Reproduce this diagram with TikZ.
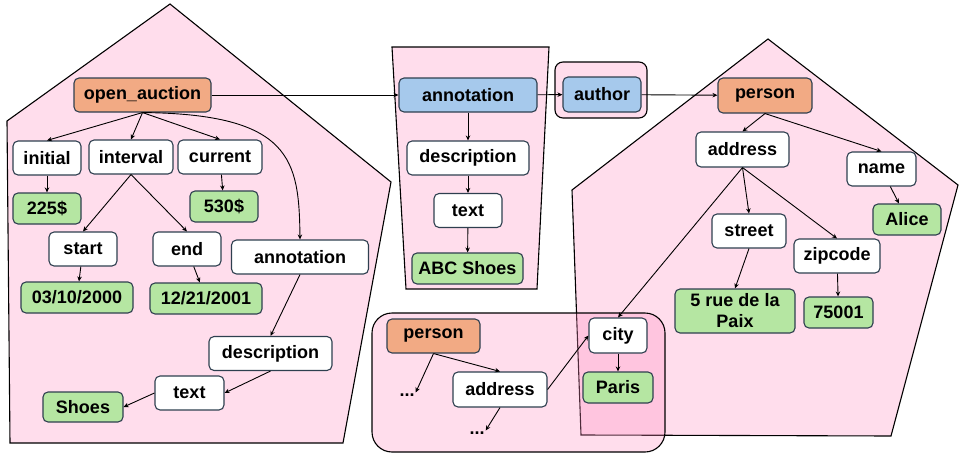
\documentclass[tikz,border=0pt]{standalone}
\usepackage{fontspec}
\setmainfont{Liberation Sans}
\usepackage{xcolor}
\usetikzlibrary{arrows.meta}

\definecolor{nodeline}{HTML}{2E3F4F}
\definecolor{rootfill}{HTML}{F2AA84}
\definecolor{reffill}{HTML}{A6C9EC}
\definecolor{valfill}{HTML}{B5E6A2}
\definecolor{regionfill}{RGB}{255,142,192}

\begin{document}
\begin{tikzpicture}[x=1pt,y=-1pt,
    box/.style={draw=nodeline,line width=1.1pt,rounded corners=5pt,minimum height=34pt,inner sep=2pt,
      font=\fontsize{18}{21}\selectfont\bfseries},
    elem/.style={box,fill=white},
    root/.style={box,fill=rootfill},
    ref/.style={box,fill=reffill},
    val/.style={box,fill=valfill,minimum height=31pt},
    dots/.style={inner sep=1pt,font=\fontsize{18}{19}\selectfont\bfseries},
    region/.style={draw=black,line width=1.1pt,fill=regionfill,fill opacity=0.3},
    arr/.style={-{Stealth[length=5pt,width=4.5pt]},line width=0.9pt}]
    \useasboundingbox (0,0) rectangle (959,455);

    % regions
    \draw[region] (170,4) -- (391,182) -- (343,443) -- (10,443) -- (7,121) -- cycle;
    \draw[region] (392,47) -- (549,47) -- (537,289) -- (406,289) -- cycle;
    \draw[region,rounded corners=8pt] (555,62) rectangle (647,118);
    \draw[region] (768,39) -- (958,185) -- (891,436) -- (581,435) -- (572,190) -- cycle;
    \draw[region,rounded corners=20pt] (372,313) rectangle (665,452);

    % open_auction tree
    \node[root,minimum width=137pt] (oa) at (142.5,95) {open\_auction};
    \node[elem,minimum width=68pt] (initial) at (47,158) {initial};
    \node[elem,minimum width=84pt] (interval) at (131,157) {interval};
    \node[elem,minimum width=84pt] (current) at (220,157) {current};
    \node[val,minimum width=68pt] (v225) at (47,208.5) {225\$};
    \node[val,minimum width=68pt] (v530) at (224,206.5) {530\$};
    \node[elem,minimum width=68pt] (start) at (83,249) {start};
    \node[elem,minimum width=68pt] (end) at (187,249) {end};
    \node[elem,minimum width=137pt] (ann1) at (300,257) {annotation};
    \node[val,minimum width=112pt] (vstart) at (77,297.5) {03/10/2000};
    \node[val,minimum width=112pt] (vend) at (206,298.5) {12/21/2001};
    \node[elem,minimum width=123pt] (desc1) at (270.5,353.5) {description};
    \node[elem,minimum width=69pt] (text1) at (189.5,393) {text};
    \node[val,minimum width=80pt,minimum height=30pt] (vshoes) at (83,407) {Shoes};

    % annotation
    \node[ref,minimum width=138pt] (ann2) at (468,95) {annotation};
    \node[elem,minimum width=122pt] (desc2) at (468,158) {description};
    \node[elem,minimum width=68pt] (text2) at (468,210.5) {text};
    \node[val,minimum width=111pt] (vabc) at (467.5,268.5) {ABC Shoes};
    \node[ref,minimum width=78pt,minimum height=35pt] (author) at (602,94.5) {author};

    % person tree
    \node[root,minimum width=94pt,minimum height=35pt] (p1) at (765,95.5) {person};
    \node[elem,minimum width=93pt,minimum height=35pt] (addr1) at (742.5,149.5) {address};
    \node[elem,minimum width=69pt] (name) at (881.5,169) {name};
    \node[val,minimum width=68pt] (valice) at (907,219.5) {Alice};
    \node[elem,minimum width=74pt] (street) at (749,231) {street};
    \node[elem,minimum width=86pt] (zip) at (837,256) {zipcode};
    \node[val,minimum width=120pt,minimum height=44pt,align=center] (vstreet) at (735,311) {5 rue de la\\Paix};
    \node[val,minimum width=69pt] (vzip) at (838.5,312.5) {75001};
    \node[elem,minimum width=58pt,minimum height=35pt] (city) at (618,335.5) {city};
    \node[val,minimum width=70pt] (vparis) at (618,387.5) {Paris};

    % second person
    \node[root,minimum width=93pt] (p2) at (433.5,336) {person};
    \node[elem,minimum width=94pt,minimum height=35pt] (addr2) at (500,389.5) {address};
    \node[dots] (dots1) at (407,395) {...};
    \node[dots] (dots2) at (477,433) {...};

    % edges
    \draw[arr] (oa) -- (ann2);
    \draw[arr] (ann2) -- (author);
    \draw[arr] (author) -- (p1);
    \draw[arr] (oa.south) -- (initial.north);
    \draw[arr] (oa.south) -- (interval.north);
    \draw[arr] (oa.south) -- (current.north);
    \draw[arr] (oa.south) .. controls (292,114) and (299,160) .. (ann1.north);
    \draw[arr] (initial) -- (v225);
    \draw[arr] (current) -- (v530);
    \draw[arr] (interval.south) -- (start.north);
    \draw[arr] (interval.south) -- (end.north);
    \draw[arr] (start) -- (vstart);
    \draw[arr] (end) -- (vend);
    \draw[arr] (ann1.south) -- (desc1.north);
    \draw[arr] (desc1.south) -- (text1.east);
    \draw[arr] (text1.west) -- (vshoes.east);
    \draw[arr] (ann2) -- (desc2);
    \draw[arr] (desc2) -- (text2);
    \draw[arr] (text2) -- (vabc);
    \draw[arr] (p1.south) -- (addr1.north);
    \draw[arr] (p1.south) -- (name.north);
    \draw[arr] (name) -- (valice);
    \draw[arr] (addr1.south) -- (street.north);
    \draw[arr] (addr1.south) -- (zip.north);
    \draw[arr] (addr1.south) -- (city.north);
    \draw[arr] (street.south) -- (vstreet.north);
    \draw[arr] (zip) -- (vzip);
    \draw[arr] (city) -- (vparis);
    \draw[arr] (p2.south) -- (dots1.north east);
    \draw[arr] (p2.south) -- (addr2.north);
    \draw[arr] (addr2.east) -- (city.west);
    \draw[arr] (addr2.south) -- (dots2.north east);
\end{tikzpicture}
\end{document}
